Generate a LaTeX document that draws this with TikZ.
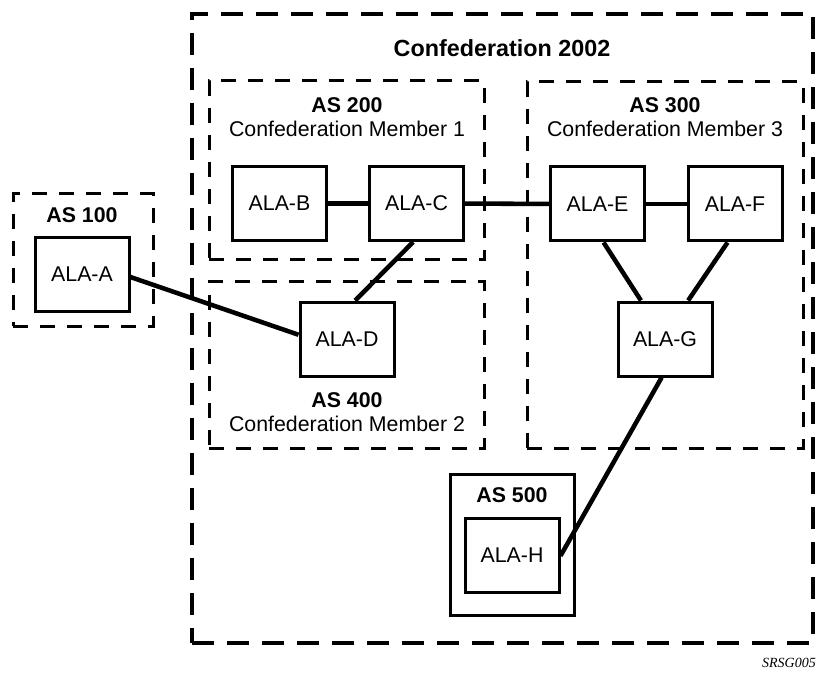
\documentclass[tikz,border=0pt]{standalone}
\usepackage{fontspec}
\setmainfont{Liberation Sans}
\newfontfamily\tagfont{Liberation Serif}
\usepackage{tikz}
\tikzset{rtr/.style={rectangle,draw,line width=2.25pt,minimum width=70.5pt,minimum height=55.5pt,inner sep=0pt,font=\fontsize{16}{18}\selectfont}}
\tikzset{dom/.style={rectangle,draw,line width=2.25pt,dash pattern=on 11.25pt off 9pt,inner sep=0pt}}
\tikzset{conf/.style={rectangle,draw,line width=3pt,dash pattern=on 16.5pt off 9.75pt,inner sep=0pt}}
\tikzset{lbl/.style={align=center,inner sep=0pt,font=\fontsize{16}{18}\selectfont}}
\tikzset{link/.style={line width=3.4pt}}

\begin{document}
\begin{tikzpicture}[x=0.75pt,y=-0.75pt]
\useasboundingbox (0,0) rectangle (816,673);
\node[conf,minimum width=465.75pt,minimum height=471.75pt](confed) at (502.5,328.5) {};
\node[dom,minimum width=105pt,minimum height=99pt](as100) at (83,260) {};
\node[dom,minimum width=206.25pt,minimum height=134.25pt](as200) at (346.5,170.5) {};
\node[dom,minimum width=206.25pt,minimum height=124.5pt](as400) at (346.5,365) {};
\node[dom,minimum width=207pt,minimum height=274.5pt](as300) at (665,265) {};
\node[rectangle,draw,line width=2.25pt,minimum width=93pt,minimum height=105.75pt](as500) at (512,544.5) {};

\node[lbl,font=\fontsize{17.5}{20}\selectfont\bfseries](confname) at (502,48) {Confederation 2002};
\node[lbl](as100name) at (82,215) {\textbf{AS 100}};
\node[lbl](as200name) at (347,117) {\textbf{AS 200}\\Confederation Member 1};
\node[lbl](as300name) at (665,117) {\textbf{AS 300}\\Confederation Member 3};
\node[lbl](as400name) at (347,412) {\textbf{AS 400}\\Confederation Member 2};
\node[lbl](as500name) at (512,495) {\textbf{AS 500}};

\node[rtr](alaa) at (82,274.5) {ALA-A};
\node[rtr](alab) at (279.5,203.5) {ALA-B};
\node[rtr](alac) at (416.5,203.5) {ALA-C};
\node[rtr](alad) at (347,339) {ALA-D};
\node[rtr](alae) at (597.5,204) {ALA-E};
\node[rtr](alaf) at (735,204) {ALA-F};
\node[rtr](alag) at (665,339) {ALA-G};
\node[rtr](alah) at (512,555) {ALA-H};

\node[font=\tagfont\itshape\fontsize{10.5}{12}\selectfont](tag) at (789,663) {SRSG005};

\draw[link] (alaa.357) -- (alad.175);
\draw[link] (alab) -- (alac);
\draw[link] (alac) -- (alae);
\draw[link] (alae) -- (alaf);
\draw[link] (alac.265) -- (alad.78);
\draw[link] (alae.279) -- (alag.122);
\draw[link] (alaf.259) -- (alag.59);
\draw[link] (alag.265) -- (alah.359);

\end{tikzpicture}
\end{document}
